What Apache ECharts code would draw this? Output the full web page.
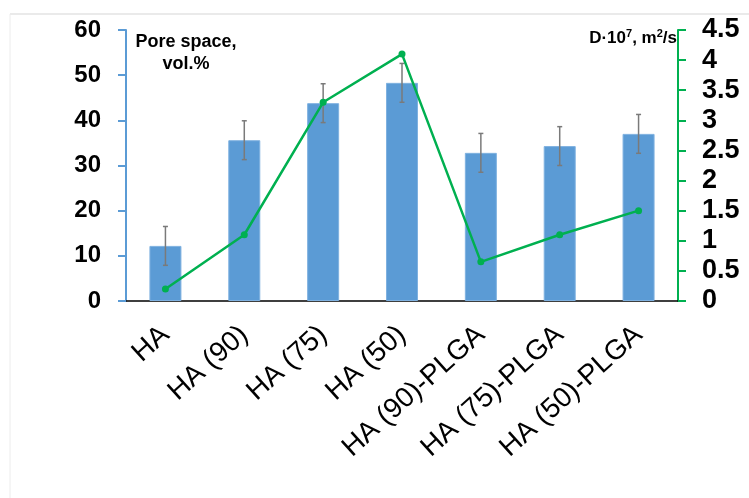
<!DOCTYPE html>
<html>
<head>
<meta charset="utf-8">
<script src="https://cdn.jsdelivr.net/npm/echarts@6/dist/echarts.min.js"></script>
<style>
  html, body { margin: 0; padding: 0; background: #fff; }
  #chart { width: 749px; height: 498px; }
</style>
</head>
<body>
<div id="chart"></div>
<script>
// Sample groups
const categories = ['HA', 'HA (90)', 'HA (75)', 'HA (50)', 'HA (90)-PLGA', 'HA (75)-PLGA', 'HA (50)-PLGA'];
// Pore space, vol.% (bars) and its standard deviation
const poreSpace = [12.2, 35.6, 43.8, 48.3, 32.8, 34.3, 37.0];
const poreError = [4.3, 4.3, 4.3, 4.3, 4.3, 4.3, 4.3];
// Diffusion coefficient D·10^7, m²/s (line)
const diffusion = [0.2, 1.1, 3.3, 4.1, 0.65, 1.1, 1.5];

const FONT = 'Arial, "Liberation Sans", sans-serif';
const BLUE = '#5b9bd5';
const GREEN = '#00b050';

const errorData = poreSpace.map((v, i) => [i, v - poreError[i], v + poreError[i]]);

const chart = echarts.init(document.getElementById('chart'), null, { renderer: 'canvas' });
chart.setOption({
  backgroundColor: '#fff',
  animation: false,
  grid: { left: 126, right: 71, top: 30, bottom: 197, containLabel: false },
  graphic: [
    // light frame along the top and left edges
    { type: 'line', shape: { x1: 10, y1: 14, x2: 749, y2: 14 }, style: { stroke: '#e3e3e3', lineWidth: 1.5 } },
    { type: 'line', shape: { x1: 10, y1: 14, x2: 10, y2: 498 }, style: { stroke: '#ececec', lineWidth: 1 } },
    // left axis caption
    {
      type: 'text', x: 186, y: 31,
      style: {
        text: 'Pore space,\nvol.%', font: 'bold 18px ' + FONT, fill: '#000',
        align: 'center', verticalAlign: 'top', lineHeight: 22
      }
    },
    // right axis caption with superscripts
    {
      type: 'text', x: 677, y: 28,
      style: {
        text: 'D·10{sup|7}, m{sup|2}/s',
        font: 'bold 17px ' + FONT, fill: '#000',
        align: 'right', verticalAlign: 'top',
        rich: {
          sup: { fontSize: 11, fontWeight: 'bold', fontFamily: FONT, verticalAlign: 'top', lineHeight: 20, padding: [0, 0, 8, 0] }
        }
      }
    }
  ],
  xAxis: {
    type: 'category',
    data: categories,
    boundaryGap: true,
    axisLine: { lineStyle: { color: '#000', width: 1.5 } },
    axisTick: { show: false },
    axisLabel: { rotate: 42, margin: 30, fontSize: 28, fontFamily: FONT, color: '#000', interval: 0 },
    splitLine: { show: false }
  },
  yAxis: [
    {
      type: 'value', min: 0, max: 60, interval: 10,
      axisLine: { show: true, lineStyle: { color: BLUE, width: 2 } },
      axisTick: { show: true, inside: false, length: 8, lineStyle: { color: BLUE, width: 2 } },
      axisLabel: { margin: 25, fontSize: 24, fontWeight: 'bold', fontFamily: FONT, color: '#000' },
      splitLine: { show: false }
    },
    {
      type: 'value', min: 0, max: 4.5, interval: 0.5, position: 'right',
      axisLine: { show: true, lineStyle: { color: GREEN, width: 2 } },
      axisTick: { show: true, inside: false, length: 8, lineStyle: { color: GREEN, width: 2 } },
      axisLabel: { margin: 24, fontSize: 27, fontWeight: 'bold', fontFamily: FONT, color: '#000' },
      splitLine: { show: false }
    }
  ],
  series: [
    {
      name: 'Pore space',
      type: 'bar',
      yAxisIndex: 0,
      data: poreSpace,
      barWidth: 32,
      itemStyle: { color: BLUE, borderColor: '#7fb1e0', borderWidth: 1 },
      z: 2
    },
    {
      name: 'Error',
      type: 'custom',
      yAxisIndex: 0,
      data: errorData,
      z: 3,
      renderItem: function (params, api) {
        const i = api.value(0);
        const lo = api.coord([i, api.value(1)]);
        const hi = api.coord([i, api.value(2)]);
        const cap = 2.5;
        const style = { stroke: '#7a7a7a', lineWidth: 1.5 };
        return {
          type: 'group',
          children: [
            { type: 'line', shape: { x1: lo[0], y1: lo[1], x2: hi[0], y2: hi[1] }, style },
            { type: 'line', shape: { x1: hi[0] - cap, y1: hi[1], x2: hi[0] + cap, y2: hi[1] }, style },
            { type: 'line', shape: { x1: lo[0] - cap, y1: lo[1], x2: lo[0] + cap, y2: lo[1] }, style }
          ]
        };
      }
    },
    {
      name: 'D',
      type: 'line',
      yAxisIndex: 1,
      data: diffusion,
      symbol: 'circle',
      symbolSize: 7,
      itemStyle: { color: GREEN },
      lineStyle: { color: GREEN, width: 2.5 },
      z: 5
    }
  ]
});
</script>
</body>
</html>
